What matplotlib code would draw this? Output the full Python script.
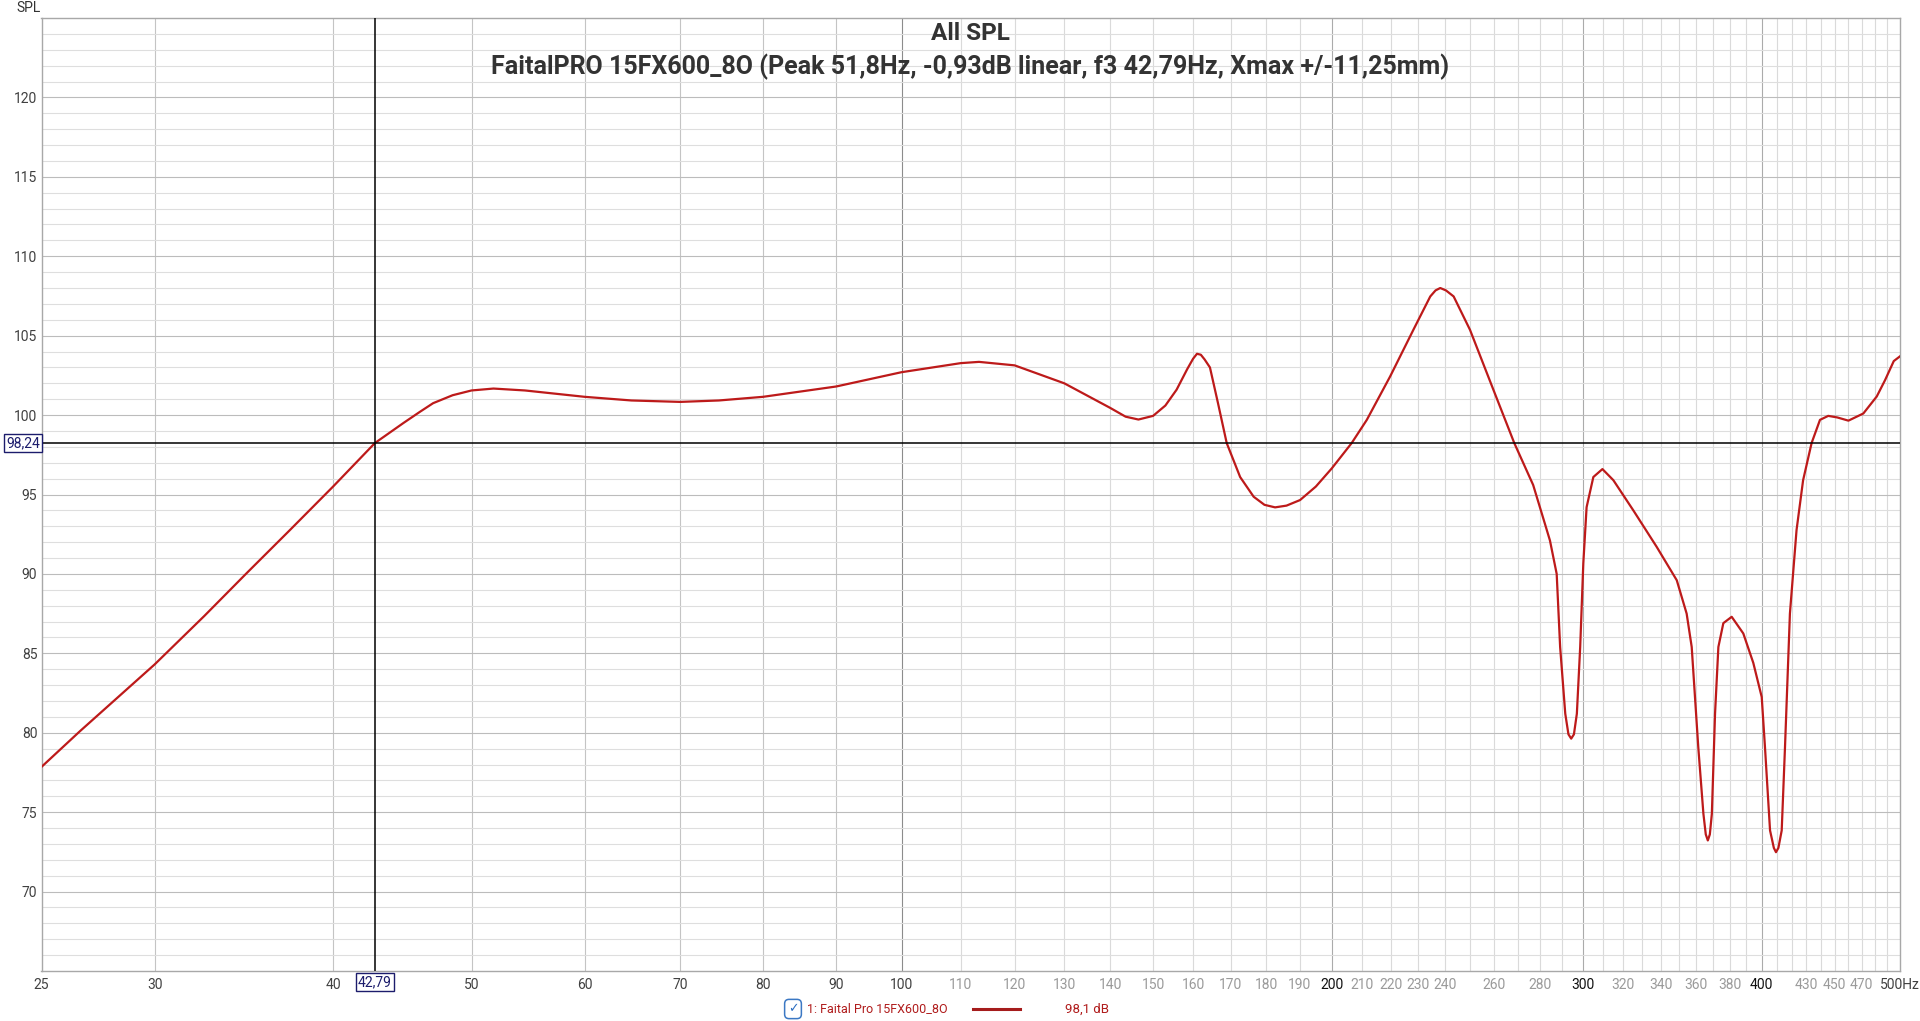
import matplotlib
matplotlib.use("Agg")
import matplotlib.pyplot as plt
import matplotlib.transforms as mtransforms
from matplotlib import font_manager
from matplotlib.ticker import NullLocator

# frequency response (Hz, dB)
freq = [25, 26.6, 30, 32.5, 34.8, 37.3, 40, 42.79, 44.8, 46, 47, 48.5, 50, 51.8, 54.5, 60, 64.7, 70, 74.5, 80, 90,
        100, 110, 113.3, 120, 130, 140, 143.5, 146.5, 150, 153, 155.8, 158.5, 160, 161, 162, 163, 164.4, 166.5,
        168.9, 172.6, 176.4, 179.5, 182.6, 186, 190.1, 195, 200.1, 206.6, 211.7, 219.8, 228.2, 234.5, 236.5,
        238.3, 240.5, 243.5, 250, 259.6, 268.5, 276.8, 282, 284.4, 287.5, 289.1, 291.5, 293, 294.3, 295.6, 297,
        298.6, 300.1, 301.7, 305, 309.5, 315, 325.3, 337.8, 348.9, 354.5, 357.4, 361.2, 364.2, 365.6, 366.8,
        368, 369.2, 371.1, 373.1, 376.1, 381.2, 388.4, 394.7, 400.1, 402.2, 405.5, 408, 409.4, 411, 413.2,
        415.4, 418.7, 423.2, 427.7, 433.6, 439.5, 445.4, 452, 460.1, 471.3, 481.6, 488.1, 495, 500]
spl = [77.85, 80.1, 84.3, 87.35, 90.05, 92.75, 95.5, 98.24, 99.5, 100.2, 100.75, 101.25, 101.55, 101.67, 101.55,
       101.15, 100.92, 100.83, 100.92, 101.15, 101.8, 102.7, 103.27, 103.35, 103.13, 102.0, 100.45, 99.9, 99.72,
       99.95, 100.6, 101.6, 102.9, 103.55, 103.86, 103.8, 103.5, 103.0, 100.8, 98.24, 96.1, 94.86, 94.35, 94.19,
       94.3, 94.65, 95.5, 96.65, 98.24, 99.7, 102.43, 105.37, 107.47, 107.85, 108.0, 107.85, 107.47, 105.37,
       101.6, 98.24, 95.6, 93.2, 92.1, 90.0, 85.4, 81.2, 79.9, 79.63, 79.9, 81.2, 85.4, 90.66, 94.2, 96.1, 96.6,
       95.9, 94.0, 91.7, 89.6, 87.5, 85.4, 79.1, 74.9, 73.6, 73.22, 73.6, 74.9, 81.2, 85.4, 86.9, 87.3, 86.25,
       84.4, 82.25, 79.1, 73.85, 72.75, 72.48, 72.75, 73.85, 79.1, 87.5, 92.76, 95.9, 98.24, 99.7, 99.95, 99.85,
       99.65, 100.1, 101.17, 102.2, 103.4, 103.7]

x_ticks = [25, 30, 40, 50, 60, 70, 80, 90, 100, 110, 120, 130, 140, 150, 160, 170, 180, 190, 200, 210, 220,
           230, 240, 260, 280, 300, 320, 340, 360, 380, 400, 430, 450, 470, 500]
x_labels = [str(t) for t in x_ticks[:-1]] + ["500Hz"]
y_ticks = [70, 75, 80, 85, 90, 95, 100, 105, 110, 115, 120]

cursor_f = 42.79
cursor_db = 98.24
title = "All SPL"
subtitle = "FaitalPRO 15FX600_8O (Peak 51,8Hz, -0,93dB linear, f3 42,79Hz, Xmax +/-11,25mm)"
legend_name = "1: Faital Pro 15FX600_8O"
legend_value = "98,1 dB"

# pick a narrow font if there is one
names = {f.name for f in font_manager.fontManager.ttflist}
if "Liberation Sans Narrow" in names:
    fam = "Liberation Sans Narrow"
else:
    fam = "Roboto"
plt.rcParams['font.family'] = [fam, 'DejaVu Sans']

W, H = 1920, 1021
fig = plt.figure(figsize=(W / 100, H / 100), dpi=100)
left, right, top, bottom = 41.5, 1900, 18, 971
ax = fig.add_axes([left / W, 1 - bottom / H, (right - left) / W, (bottom - top) / H])
ax.set_xscale('log')
ax.set_xlim(25, 500)
ax.set_ylim(65, 125)

# grid
for f in range(110, 500, 10):
    if f % 100:
        ax.axvline(f, color='#dadada', lw=0.8, zorder=0)
for f in range(30, 100, 10):
    ax.axvline(f, color='#c4c4c4', lw=0.8, zorder=0)
for f in (200, 300, 400):
    ax.axvline(f, color='#ababab', lw=0.8, zorder=0)
ax.axvline(100, color='#8c8c8c', lw=0.8, zorder=0)
for d in range(66, 125):
    ax.axhline(d, color='#bcbcbc' if d % 5 == 0 else '#dedede', lw=0.8, zorder=0)

for s in ax.spines.values():
    s.set_color('#a8a8a8')
    s.set_linewidth(1)

ax.plot(freq, spl, color='#bd1a1a', lw=1.6, solid_joinstyle='round', zorder=3)

# cursor
ax.axvline(cursor_f, color='black', lw=1.1, zorder=4)
ax.axhline(cursor_db, color='black', lw=1.1, zorder=4)

ax.set_xticks(x_ticks)
ax.set_xticklabels(x_labels)
ax.xaxis.set_minor_locator(NullLocator())
ax.set_yticks(y_ticks)
ax.tick_params(length=0, labelsize=10, pad=5)
ax.tick_params(axis='y', pad=3, labelcolor='#404040')
for t, lab in zip(x_ticks, ax.get_xticklabels()):
    if t in (200, 300, 400):
        lab.set_color('#111111')
    elif t <= 100 or t == 500:
        lab.set_color('#404040')
    else:
        lab.set_color('#9a9a9a')

# cursor value boxes
box = dict(boxstyle='square,pad=0.15', fc='white', ec='#1c1c6c', lw=1)
tr_y = mtransforms.blended_transform_factory(fig.transFigure, ax.transData)
ax.text(23 / W, cursor_db, "98,24", transform=tr_y, ha='center', va='center', fontsize=10,
        color='#1c1c6c', bbox=box, zorder=6, clip_on=False)
tr_x = mtransforms.blended_transform_factory(ax.transData, fig.transFigure)
ax.text(cursor_f, 1 - 982 / H, "42,79", transform=tr_x, ha='center', va='center', fontsize=10,
        color='#1c1c6c', bbox=box, zorder=6, clip_on=False)

# titles
fig.text(970 / W, 1 - 34 / H, title, ha='center', va='center', fontsize=17.5, fontweight='bold', color='#333333')
fig.text(970 / W, 1 - 67 / H, subtitle, ha='center', va='center', fontsize=18, fontweight='bold', color='#333333')
fig.text(29 / W, 1 - 8 / H, "SPL", ha='center', va='center', fontsize=10, color='#333333')

# legend row
ly = 1 - 1009 / H
fig.text(793 / W, ly, "\u2713", ha='center', va='center', fontsize=9, color='#2a6cc0',
         family='DejaVu Sans', fontweight='bold',
         bbox=dict(boxstyle='round,pad=0.25,rounding_size=0.35', fc='white', ec='#3b78c4', lw=1.1))
fig.text(807 / W, ly, legend_name, ha='left', va='center', fontsize=9, color='#b01c1c')
fig.add_artist(plt.Line2D([973 / W, 1020 / W], [ly, ly], color='#a51c1c', lw=2.2))
fig.text(1065 / W, ly, legend_value, ha='left', va='center', fontsize=9.5, color='#b01c1c')

fig.savefig('out.png', dpi=100)
